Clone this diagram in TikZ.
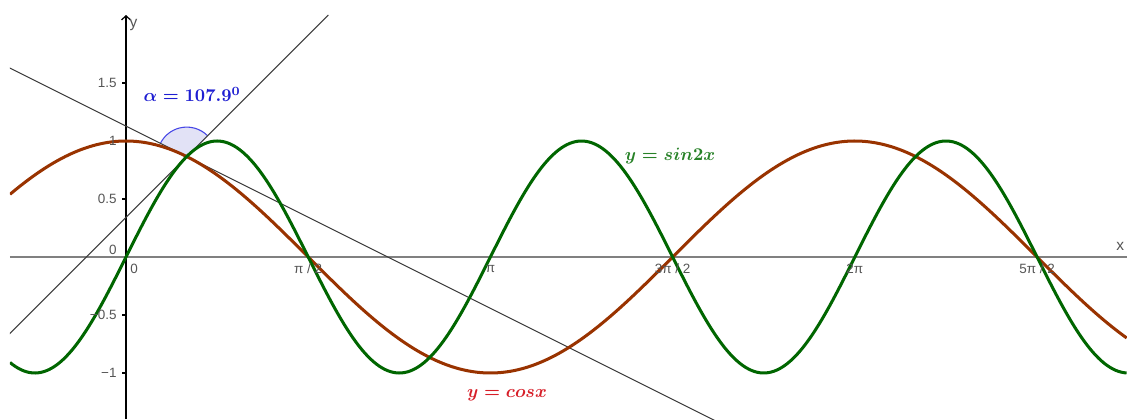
\documentclass[tikz,border=0pt]{standalone}
\usepackage{fontspec}
\newfontfamily\ticksf{Liberation Sans}
\usetikzlibrary{arrows.meta,calc}
\definecolor{cosc}{RGB}{153,51,0}
\definecolor{sinc}{RGB}{0,102,0}
\definecolor{sinlab}{RGB}{40,130,40}
\definecolor{coslab}{RGB}{215,30,40}
\definecolor{anglab}{RGB}{30,30,210}
\definecolor{angfill}{RGB}{226,226,246}
\definecolor{angline}{RGB}{70,70,230}
\definecolor{tickgray}{RGB}{85,85,85}
\definecolor{tangray}{RGB}{60,60,60}
\tikzset{
  ticklab/.style={font=\ticksf\fontsize{3.3}{3.6}\selectfont, text=tickgray, inner sep=0pt},
  axlab/.style={font=\ticksf\fontsize{3.8}{4}\selectfont, text=tickgray, inner sep=0pt},
  curvelab/.style={font=\fontsize{10}{12}\selectfont\boldmath, inner sep=0pt, scale=0.44, transform shape},
  curve/.style={line width=0.74pt, line join=round},
  tangent/.style={tangray, line width=0.24pt},
}
\begin{document}
\begin{tikzpicture}[x=1cm,y=1cm]
\useasboundingbox (-1.0862,-1.3966) rectangle (8.6293,2.2155);
\fill[white] (-1.0862,-1.3966) rectangle (8.6293,2.2155);
\coordinate (P) at (0.5236,0.8660);
\coordinate (L1a) at (-1.2,-0.858);
\coordinate (L1b) at (1.744,2.086);
\coordinate (L2a) at (-1.2,1.728);
\coordinate (L2b) at (5.3,-1.522);
\coordinate (Xa) at (-1,0);
\coordinate (Xb) at (8.6293,0);
\coordinate (Ya) at (0,-1.3966);
\coordinate (Yb) at (0,2.086);
\coordinate (A1) at ($(P)+(45:0.254)$);
\begin{scope}
\clip (-1.0,-1.3966) rectangle (8.6293,2.2155);
% angle
\fill[angfill] (P) -- (A1) arc[start angle=45,end angle=153.43,radius=0.254] -- cycle;
\draw[angline, line width=0.26pt] (A1) arc[start angle=45,end angle=153.43,radius=0.254];
% axes
\draw[gray, line width=0.45pt] (Xa) -- (Xb);
\draw[black, line width=0.3pt, -{Straight Barb[length=1pt,width=2.2pt]}] (Ya) -- (Yb);
\foreach \yy in {1.5,1,0.5,-0.5,-1} \draw[black, line width=0.25pt] (0,\yy) -- (-0.035,\yy);
% tangents
\draw[tangent] (L1a) -- (L1b);
\draw[tangent] (L2a) -- (L2b);
% curves
\draw[curve, cosc] plot[domain=-1:8.63, samples=300, smooth] (\x,{cos(\x r)});
\draw[curve, sinc] plot[domain=-1:8.63, samples=400, smooth] (\x,{sin(2*\x r)});
\end{scope}
% tick labels
\node[ticklab, anchor=east] (t15) at (-0.075,1.5) {1.5};
\node[ticklab, anchor=east] (t1) at (-0.075,1) {1};
\node[ticklab, anchor=east] (t05) at (-0.075,0.5) {0.5};
\node[ticklab, anchor=east] (t0) at (-0.075,0.06) {0};
\node[ticklab, anchor=east] (tm05) at (-0.075,-0.5) {−0.5};
\node[ticklab, anchor=east] (tm1) at (-0.075,-1) {−1};
\node[ticklab] (x0) at (0.07,-0.1) {0};
\node[ticklab] (xp2) at (1.5708,-0.1) {π / 2};
\node[ticklab] (xp) at (3.1416,-0.1) {π};
\node[ticklab] (x3p2) at (4.7124,-0.1) {3π / 2};
\node[ticklab] (x2p) at (6.2832,-0.1) {2π};
\node[ticklab] (x5p2) at (7.8540,-0.1) {5π / 2};
\node[axlab] (ylab) at (0.065,2.0) {y};
\node[axlab] (xlab) at (8.57,0.09) {x};
% labels
\node[curvelab, text=anglab] (alab) at (0.57,1.40) {$\alpha = 107.9^{0}$};
\node[curvelab, text=sinlab] (slab) at (4.69,0.87) {$y = sin2x$};
\node[curvelab, text=coslab] (clab) at (3.284,-1.19) {$y = cosx$};
\end{tikzpicture}
\end{document}
